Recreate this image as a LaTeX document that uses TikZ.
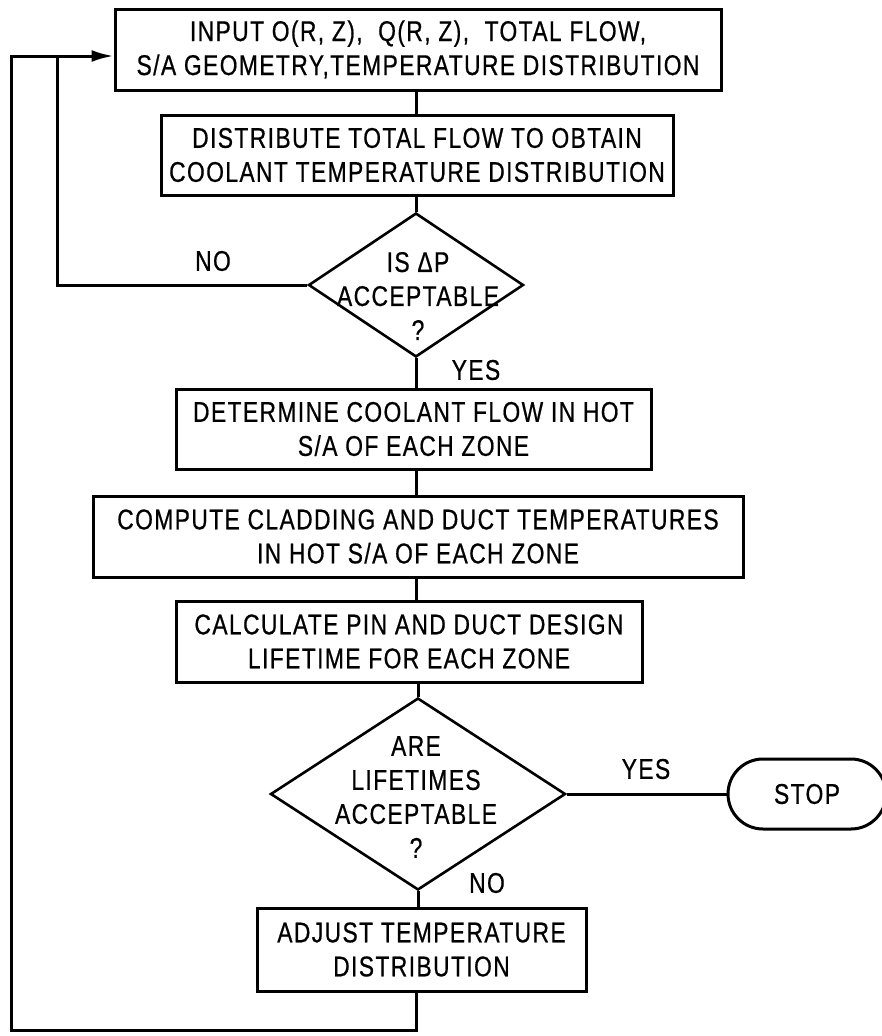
\documentclass[tikz,border=0pt]{standalone}
\usepackage{fontspec}
\setmainfont[FakeStretch=0.8,LetterSpace=5,FakeBold=0.6]{Liberation Sans}
\usetikzlibrary{shapes.geometric,arrows.meta}
\begin{document}
\begin{tikzpicture}[x=1pt,y=-1pt,
  line width=3pt,
  every node/.style={font=\fontsize{28.5}{34}\selectfont},
  box/.style={draw, rectangle, inner sep=0pt, align=center, line width=3pt},
  decision/.style={draw, diamond, inner sep=0pt, line width=2.6pt},
  term/.style={draw, rectangle, rounded corners=35pt, inner sep=0pt, line width=3pt},
  lbl/.style={inner sep=0pt, align=center},
  arr/.style={-{Latex[length=22pt,width=12pt]}}]
\useasboundingbox (0,0) rectangle (882,1036);

\node[box, minimum width=606pt, minimum height=81pt] (b1) at (418,49.5)
  {INPUT O(R, Z),\ \ Q(R, Z),\ \ TOTAL FLOW,\\S/A GEOMETRY,TEMPERATURE DISTRIBUTION};
\node[box, minimum width=512pt, minimum height=80pt] (b2) at (417,155)
  {DISTRIBUTE TOTAL FLOW TO OBTAIN\\COOLANT TEMPERATURE DISTRIBUTION};
\node[decision, minimum width=215pt, minimum height=144pt] (d1) at (416,285) {};
\node[lbl] (t1) at (418,296) {IS ΔP\\ACCEPTABLE\\?};
\node[box, minimum width=475pt, minimum height=80pt] (b3) at (413.5,429)
  {DETERMINE COOLANT FLOW IN HOT\\S/A OF EACH ZONE};
\node[box, minimum width=650pt, minimum height=81pt] (b4) at (418,536.5)
  {COMPUTE CLADDING AND DUCT TEMPERATURES\\IN HOT S/A OF EACH ZONE};
\node[box, minimum width=466pt, minimum height=81pt] (b5) at (409,641.5)
  {CALCULATE PIN AND DUCT DESIGN\\LIFETIME FOR EACH ZONE};
\node[decision, minimum width=295pt, minimum height=192pt] (d2) at (418,794) {};
\node[lbl] (t2) at (416,797) {ARE\\LIFETIMES\\ACCEPTABLE\\?};
\node[term, minimum width=158pt, minimum height=70pt] (stop) at (807,794) {STOP};
\node[box, minimum width=329pt, minimum height=83pt] (b6) at (421.5,949.5)
  {ADJUST TEMPERATURE\\DISTRIBUTION};

\node[lbl] (no1) at (213,261) {NO};
\node[lbl] (yes1) at (476,370) {YES};
\node[lbl] (yes2) at (646,769) {YES};
\node[lbl] (no2) at (487,883) {NO};

\coordinate (ax) at (416,0);
\coordinate (jn) at (57,56);
\coordinate (bl) at (11,1030);

\draw (b1.south -| ax) -- (b2.north -| ax);
\draw (b2.south -| ax) -- (d1.north);
\draw (d1.south) -- (b3.north -| d1.south);
\draw (b3.south -| ax) -- (b4.north -| ax);
\draw (b4.south -| ax) -- (b5.north -| ax);
\draw (b5.south -| d2.north) -- (d2.north);
\draw (d2.south) -- (b6.north -| d2.south);
\draw (d2.east) -- (stop.west);
\draw (d1.west) -| (jn);
\draw[arr] (b6.south -| ax) |- (bl) |- ([yshift=-6.5pt]b1.west);
\end{tikzpicture}
\end{document}
